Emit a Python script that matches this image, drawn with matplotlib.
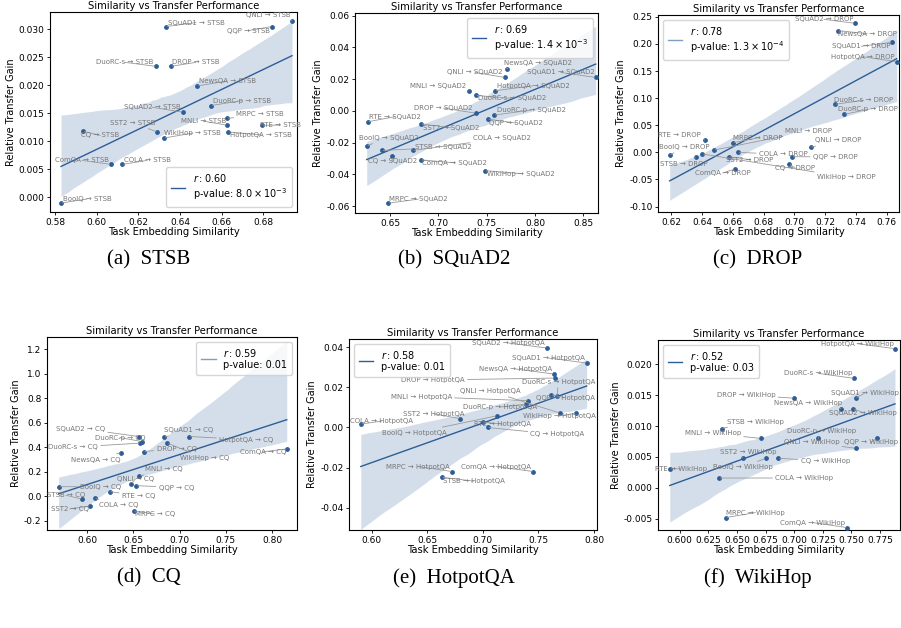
import numpy as np
import matplotlib
matplotlib.use("Agg")
import matplotlib.pyplot as plt
from matplotlib.ticker import FormatStrFormatter

# ---- data (source task -> target task) ----
stsb_src = ["BoolQ", "CQ", "ComQA", "COLA", "DuoRC-s", "SST2", "WikiHop", "SQuAD1", "DROP",
            "SQuAD2", "NewsQA", "DuoRC-p", "MRPC", "MNLI", "HotpotQA", "RTE", "QQP", "QNLI"]
stsb_sim = [0.5829, 0.5936, 0.6069, 0.6123, 0.6285, 0.6291, 0.6323, 0.6333, 0.6357,
            0.6416, 0.6483, 0.6549, 0.6627, 0.6627, 0.6632, 0.6795, 0.6840, 0.6938]
stsb_gain = [-0.0010, 0.0118, 0.0059, 0.0059, 0.0234, 0.0117, 0.0106, 0.0305, 0.0234,
             0.0152, 0.0199, 0.0164, 0.0141, 0.0129, 0.0117, 0.0129, 0.0305, 0.0315]

squad2_src = ["RTE", "BoolQ", "STSB", "CQ", "COLA", "SST2", "ComQA", "MRPC", "MNLI",
              "DuoRC-s", "DROP", "QQP", "DuoRC-p", "HotpotQA", "QNLI", "NewsQA", "WikiHop", "SQuAD1"]
squad2_sim = [0.6271, 0.6258, 0.6413, 0.6523, 0.6734, 0.6817, 0.6817, 0.6481, 0.7317,
              0.7386, 0.7386, 0.7510, 0.7579, 0.7586, 0.7689, 0.7707, 0.7482, 0.8628]
squad2_gain = [-0.0069, -0.0221, -0.0250, -0.0288, -0.0250, -0.0082, -0.0309, -0.0582, 0.0126,
               0.0097, -0.0015, -0.0052, -0.0027, 0.0126, 0.0210, 0.0265, -0.0377, 0.0210]

drop_src = ["BoolQ", "STSB", "WikiHop", "RTE", "MNLI", "SST2", "MRPC", "ComQA", "COLA",
            "CQ", "QQP", "QNLI", "DuoRC-s", "NewsQA", "DuoRC-p", "SQuAD2", "SQuAD1", "HotpotQA"]
drop_sim = [0.6189, 0.6363, 0.6402, 0.6417, 0.6477, 0.6575, 0.6601, 0.6612, 0.6634,
            0.6966, 0.6985, 0.7105, 0.7263, 0.7285, 0.7324, 0.7393, 0.7636, 0.7665]
drop_gain = [-0.0050, -0.0081, -0.0031, 0.0227, 0.0042, -0.0081, 0.0177, -0.0308, 0.0000,
             -0.0216, -0.0081, 0.0092, 0.0886, 0.2244, 0.0701, 0.2380, 0.2030, 0.1672]

cq_src = ["BoolQ", "STSB", "SST2", "COLA", "RTE", "NewsQA", "QNLI", "MRPC", "QQP",
          "SQuAD2", "MNLI", "DuoRC-s", "DuoRC-p", "DROP", "SQuAD1", "WikiHop", "HotpotQA", "ComQA"]
cq_sim = [0.5690, 0.5943, 0.6025, 0.6079, 0.6241, 0.6368, 0.6476, 0.6501, 0.6530,
          0.6555, 0.6565, 0.6573, 0.6591, 0.6609, 0.6832, 0.6868, 0.7103, 0.8159]
cq_gain = [0.078, -0.024, -0.079, -0.016, 0.038, 0.356, 0.100, -0.120, 0.087,
           0.487, 0.163, 0.433, 0.446, 0.364, 0.482, 0.433, 0.487, 0.386]

hotpot_src = ["COLA", "STSB", "MRPC", "SST2", "RTE", "CQ", "BoolQ", "DuoRC-p", "MNLI",
              "ComQA", "SQuAD2", "QQP", "NewsQA", "DROP", "DuoRC-s", "QNLI", "WikiHop", "SQuAD1"]
hotpot_sim = [0.5901, 0.6628, 0.6723, 0.6793, 0.7003, 0.7042, 0.7123, 0.7387, 0.7408,
              0.7453, 0.7574, 0.7613, 0.7640, 0.7649, 0.7669, 0.7694, 0.7838, 0.7934]
hotpot_gain = [0.0017, -0.0248, -0.0220, 0.0044, 0.0027, 0.0000, 0.0058, 0.0117, 0.0134,
               -0.0220, 0.0397, 0.0164, 0.0267, 0.0247, 0.0158, 0.0072, 0.0072, 0.0322]

wikihop_src = ["RTE", "COLA", "STSB", "MRPC", "SST2", "MNLI", "BoolQ", "CQ", "DROP",
               "DuoRC-p", "NewsQA", "ComQA", "SQuAD2", "DuoRC-s", "SQuAD1", "QNLI", "QQP", "HotpotQA"]
wikihop_sim = [0.5913, 0.6344, 0.6365, 0.6400, 0.6549, 0.6709, 0.6752, 0.6860, 0.7000,
               0.7210, 0.7409, 0.7458, 0.7516, 0.7525, 0.7537, 0.7537, 0.7721, 0.7881]
wikihop_gain = [0.0031, 0.0016, 0.0096, -0.0048, 0.0049, 0.0080, 0.0048, 0.0048, 0.0145,
                0.0080, 0.0128, -0.0064, 0.0128, 0.0177, 0.0145, 0.0064, 0.0080, 0.0225]

stats_r = ["0.60", "0.69", "0.78", "0.59", "0.58", "0.52"]
stats_p = [r"$8.0 \times 10^{-3}$", r"$1.4 \times 10^{-3}$", r"$1.3 \times 10^{-4}$",
           "0.01", "0.01", "0.03"]

# label offsets from each point, in pixels (layout only)
stsb_off = [(26, 4), (17, -4), (-29, 4), (25, 4), (-31, 4), (-25, 9), (29, 5), (30, 4), (25, 4),
            (-31, 5), (30, 5), (31, 5), (33, 4), (-24, 4), (33, -3), (18, 0), (-23, -4), (-24, 6)]
squad2_off = [(27, 5), (22, 8), (62, 3), (0, -5), (89, 12), (30, -4), (34, -3), (30, 4), (-31, 5),
              (36, -3), (-32, 5), (28, -4), (37, 5), (38, 5), (-30, 5), (31, 6), (36, -3), (-35, 5)]
drop_off = [(15, 8), (-13, -7), (144, -23), (-25, 5), (95, 19), (21, -3), (25, 5), (-12, -4), (45, -2),
            (6, -4), (43, 0), (28, 7), (29, 4), (29, -3), (24, 5), (-31, 4), (-31, -4), (-34, 5)]
cq_off = [(42, 0), (-16, 4), (-20, -3), (24, -7), (29, -4), (-26, -7), (4, 5), (21, -3), (40, -2),
          (-58, 8), (24, 7), (-67, -4), (-22, 4), (33, 3), (24, 7), (37, -15), (57, -3), (-24, -3)]
hotpot_off = [(21, 3), (32, -4), (-34, 5), (-26, 5), (19, -2), (70, -7), (-82, -17), (-26, -3), (-107, 4),
              (-37, 5), (-38, 5), (14, -3), (-38, 5), (-122, -2), (1, 14), (-70, 22), (-17, -3), (-38, 5)]
wikihop_off = [(11, 0), (85, 0), (34, 7), (30, 5), (6, 6), (-48, 5), (-23, -9), (47, -3), (-48, 3),
               (3, 7), (-33, 6), (-34, 5), (10, -4), (-36, 5), (9, 5), (-44, 6), (-6, -4), (-38, 5)]

BLUE = "#2c5d96"
W, H = 901, 628


def rect(l, t, r, b):
    return [l / W, 1 - b / H, (r - l) / W, (b - t) / H]


panels = [
    dict(target="STSB", src=stsb_src, x=stsb_sim, y=stsb_gain, off=stsb_off, cap="(a)  STSB",
         box=(50, 12, 297, 212), xlim=(0.5776, 0.6962), ylim=(-0.0026, 0.0331),
         xt=np.arange(0.58, 0.681, 0.02), yt=np.arange(0.0, 0.0301, 0.005), xf="%.2f", yf="%.3f",
         loc="lower right", halpha=1.0),
    dict(target="SQuAD2", src=squad2_src, x=squad2_sim, y=squad2_gain, off=squad2_off, cap="(b)  SQuAD2",
         box=(355, 13, 598, 213), xlim=(0.6137, 0.8652), ylim=(-0.0644, 0.0616),
         xt=np.arange(0.65, 0.851, 0.05), yt=np.arange(-0.06, 0.061, 0.02), xf="%.2f", yf="%.2f",
         loc="upper right", halpha=1.0),
    dict(target="DROP", src=drop_src, x=drop_sim, y=drop_gain, off=drop_off, cap="(c)  DROP",
         box=(658, 15, 899, 212), xlim=(0.6113, 0.7680), ylim=(-0.110, 0.2533),
         xt=np.arange(0.62, 0.761, 0.02), yt=np.arange(-0.10, 0.251, 0.05), xf="%.2f", yf="%.2f",
         loc="upper left", halpha=0.6),
    dict(target="CQ", src=cq_src, x=cq_sim, y=cq_gain, off=cq_off, cap="(d)  CQ",
         box=(47, 337, 297, 530), xlim=(0.5564, 0.827), ylim=(-0.275, 1.298),
         xt=np.arange(0.60, 0.801, 0.05), yt=np.arange(-0.2, 1.21, 0.2), xf="%.2f", yf="%.1f",
         loc="upper right", halpha=0.6),
    dict(target="HotpotQA", src=hotpot_src, x=hotpot_sim, y=hotpot_gain, off=hotpot_off, cap="(e)  HotpotQA",
         box=(349, 339, 597, 530), xlim=(0.5795, 0.8027), ylim=(-0.0512, 0.0442),
         xt=np.arange(0.60, 0.801, 0.05), yt=np.arange(-0.04, 0.041, 0.02), xf="%.2f", yf="%.2f",
         loc="upper left", halpha=1.0),
    dict(target="WikiHop", src=wikihop_src, x=wikihop_sim, y=wikihop_gain, off=wikihop_off, cap="(f)  WikiHop",
         box=(658, 340, 900, 530), xlim=(0.581, 0.7925), ylim=(-0.0068, 0.0239),
         xt=np.arange(0.600, 0.7751, 0.025), yt=np.arange(-0.005, 0.0201, 0.005), xf="%.3f", yf="%.3f",
         loc="upper left", halpha=1.0),
]
cap_pos = [(149, 260), (454, 260), (758, 260), (149, 578), (454, 578), (758, 578)]


def fit_band(x, y, xs, n_boot=1000):
    # regression line plus 95% bootstrap band, the way seaborn's regplot does it
    b, a = np.polyfit(x, y, 1)
    yhat = a + b * xs
    rng = np.random.default_rng(0)
    n = len(x)
    boots = np.empty((n_boot, len(xs)))
    for k in range(n_boot):
        idx = rng.integers(0, n, n)
        bb, aa = np.polyfit(x[idx], y[idx], 1)
        boots[k] = aa + bb * xs
    lo, hi = np.percentile(boots, [2.5, 97.5], axis=0)
    return yhat, lo, hi


fig = plt.figure(figsize=(W / 100, H / 100), dpi=100)

for i, p in enumerate(panels):
    ax = fig.add_axes(rect(*p["box"]))
    x = np.array(p["x"])
    y = np.array(p["y"])
    xs = np.linspace(x.min(), x.max(), 100)
    yhat, lo, hi = fit_band(x, y, xs)

    ax.fill_between(xs, lo, hi, color=BLUE, alpha=0.2, lw=0)
    ax.plot(xs, yhat, color=BLUE, lw=1.0)
    ax.scatter(x, y, s=6, color=BLUE, zorder=3)

    for name, xi, yi, (dx, dy) in zip(p["src"], x, y, p["off"]):
        ax.annotate(f"{name} → {p['target']}", xy=(xi, yi), xytext=(dx, dy),
                    textcoords="offset pixels", ha="center", va="center",
                    fontsize=5, color="#777777", annotation_clip=False,
                    arrowprops=dict(arrowstyle="-", color="#999999", lw=0.6,
                                    shrinkA=0, shrinkB=1))

    ax.set_xlim(*p["xlim"])
    ax.set_ylim(*p["ylim"])
    ax.set_xticks(p["xt"])
    ax.set_yticks(p["yt"])
    ax.xaxis.set_major_formatter(FormatStrFormatter(p["xf"]))
    ax.yaxis.set_major_formatter(FormatStrFormatter(p["yf"]))
    ax.tick_params(labelsize=6.5, length=2.5, width=0.6, pad=1.5)
    for sp in ax.spines.values():
        sp.set_linewidth(0.8)

    ax.set_title("Similarity vs Transfer Performance", fontsize=7.2, pad=2)
    ax.set_xlabel("Task Embedding Similarity", fontsize=7.2, labelpad=0.5)
    ax.set_ylabel("Relative Transfer Gain", fontsize=7, labelpad=2)

    handle, = ax.plot([], [], color=BLUE, lw=1.0, alpha=p["halpha"])
    ax.legend([handle], [f"$r: {stats_r[i]}$\np-value: {stats_p[i]}"], loc=p["loc"],
              fontsize=7, handlelength=1.5, borderpad=0.5, labelspacing=0.2,
              framealpha=0.8)

    cx, cy = cap_pos[i]
    fig.text(cx / W, 1 - cy / H, p["cap"], family="Liberation Serif", fontsize=15,
             ha="center", va="center")

fig.savefig("out.png", dpi=100)
